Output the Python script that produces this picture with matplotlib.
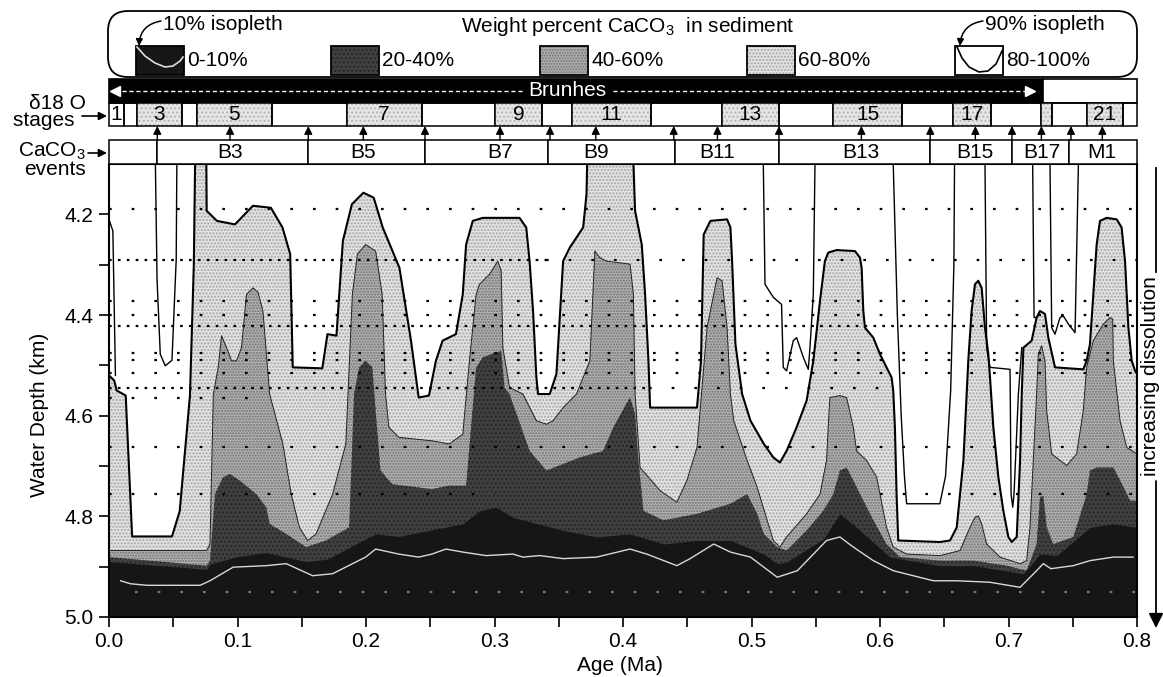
import numpy as np
import matplotlib.pyplot as plt
from matplotlib.patches import Rectangle, FancyBboxPatch

plt.rcParams['font.family'] = ['Liberation Sans', 'DejaVu Sans']
plt.rcParams['mathtext.fontset'] = 'custom'
plt.rcParams['mathtext.rm'] = 'Liberation Sans'
plt.rcParams['hatch.linewidth'] = 1.0

# isopleths: (age Ma, water depth km); 4.0 = above the frame
iso80 = [(0.000, 4.52), (0.004, 4.53), (0.006, 4.55), (0.013, 4.56), (0.018, 4.84), (0.049, 4.84),
         (0.055, 4.79), (0.063, 4.56), (0.066, 4.30), (0.0675, 4.00), (0.0755, 4.00), (0.076, 4.193),
         (0.084, 4.213), (0.098, 4.22), (0.112, 4.183), (0.126, 4.187), (0.135, 4.226), (0.141, 4.279),
         (0.143, 4.504), (0.166, 4.506), (0.170, 4.438), (0.177, 4.441), (0.182, 4.253), (0.189, 4.18),
         (0.198, 4.157), (0.206, 4.167), (0.213, 4.226), (0.226, 4.306), (0.235, 4.451), (0.241, 4.564),
         (0.249, 4.56), (0.2544, 4.491), (0.2596, 4.451), (0.270, 4.438), (0.2753, 4.359), (0.2779, 4.26),
         (0.2831, 4.213), (0.2909, 4.207), (0.3195, 4.207), (0.3247, 4.226), (0.3273, 4.293), (0.330, 4.392),
         (0.3326, 4.524), (0.3339, 4.557), (0.343, 4.557), (0.3482, 4.517), (0.3534, 4.293), (0.3586, 4.266),
         (0.369, 4.226), (0.3716, 4.16), (0.3729, 4.00), (0.4068, 4.00), (0.4094, 4.193), (0.4146, 4.26),
         (0.4172, 4.359), (0.4198, 4.491), (0.4211, 4.584), (0.4576, 4.584), (0.4607, 4.491), (0.4628, 4.24),
         (0.468, 4.213), (0.481, 4.21), (0.4836, 4.226), (0.4849, 4.293), (0.4875, 4.458), (0.4927, 4.557),
         (0.4992, 4.61), (0.5096, 4.656), (0.517, 4.683), (0.5221, 4.693), (0.5273, 4.67), (0.5351, 4.623),
         (0.5429, 4.57), (0.5481, 4.491), (0.5533, 4.372), (0.5571, 4.293), (0.5597, 4.276), (0.5662, 4.271),
         (0.5805, 4.273), (0.5844, 4.286), (0.5857, 4.306), (0.587, 4.392), (0.5883, 4.425), (0.5948, 4.445),
         (0.600, 4.478), (0.6051, 4.504), (0.609, 4.524), (0.6103, 4.55), (0.6116, 4.623), (0.6129, 4.756),
         (0.6142, 4.848), (0.6466, 4.851), (0.6545, 4.848), (0.6597, 4.822), (0.6649, 4.689), (0.6687, 4.491),
         (0.6713, 4.392), (0.6739, 4.339), (0.6765, 4.332), (0.6791, 4.346), (0.6817, 4.425), (0.6843, 4.478),
         (0.6856, 4.524), (0.6882, 4.623), (0.6921, 4.722), (0.696, 4.789), (0.6999, 4.841), (0.7025, 4.851),
         (0.7064, 4.841), (0.709, 4.689), (0.7103, 4.557), (0.7116, 4.465), (0.718, 4.451), (0.7219, 4.405),
         (0.7245, 4.392), (0.7284, 4.398), (0.731, 4.445), (0.7362, 4.504), (0.7582, 4.508), (0.7608, 4.491),
         (0.7634, 4.458), (0.766, 4.359), (0.7686, 4.26), (0.7712, 4.213), (0.7764, 4.207), (0.7842, 4.21),
         (0.788, 4.226), (0.7907, 4.293), (0.7933, 4.425), (0.7959, 4.491), (0.7985, 4.511), (0.800, 4.517)]

iso60 = [(0.0, 4.868), (0.076, 4.868), (0.0786, 4.855), (0.0812, 4.557), (0.085, 4.504), (0.0876, 4.441),
         (0.0915, 4.465), (0.0954, 4.491), (0.0992, 4.491), (0.1031, 4.465), (0.107, 4.359), (0.1121, 4.346),
         (0.116, 4.355), (0.1198, 4.392), (0.125, 4.557), (0.1353, 4.656), (0.1418, 4.756), (0.1482, 4.822),
         (0.1546, 4.848), (0.1611, 4.835), (0.174, 4.756), (0.1843, 4.656), (0.1894, 4.359), (0.1933, 4.279),
         (0.1997, 4.26), (0.2075, 4.273), (0.2126, 4.359), (0.2152, 4.557), (0.2178, 4.623), (0.2255, 4.643),
         (0.2513, 4.65), (0.2648, 4.656), (0.2753, 4.637), (0.2805, 4.491), (0.2857, 4.359), (0.2883, 4.339),
         (0.2961, 4.319), (0.3026, 4.293), (0.3052, 4.312), (0.3065, 4.465), (0.3117, 4.544), (0.3221, 4.557),
         (0.3326, 4.61), (0.3404, 4.617), (0.3456, 4.61), (0.3534, 4.584), (0.3638, 4.557), (0.3742, 4.491),
         (0.3781, 4.273), (0.382, 4.286), (0.3872, 4.293), (0.4055, 4.299), (0.4081, 4.359), (0.4094, 4.557),
         (0.4133, 4.703), (0.4289, 4.749), (0.4419, 4.772), (0.4497, 4.729), (0.4576, 4.663), (0.4654, 4.425),
         (0.4732, 4.326), (0.4771, 4.332), (0.481, 4.425), (0.4836, 4.557), (0.4862, 4.61), (0.4966, 4.689),
         (0.5044, 4.742), (0.5122, 4.808), (0.517, 4.848), (0.5221, 4.861), (0.5273, 4.841), (0.5429, 4.795),
         (0.5533, 4.756), (0.5584, 4.689), (0.5597, 4.623), (0.561, 4.564), (0.5688, 4.56), (0.574, 4.564),
         (0.5792, 4.623), (0.5818, 4.67), (0.5896, 4.689), (0.5974, 4.722), (0.600, 4.756), (0.6051, 4.822),
         (0.6103, 4.861), (0.6207, 4.875), (0.6466, 4.878), (0.6623, 4.868), (0.670, 4.822), (0.6739, 4.802),
         (0.6765, 4.799), (0.6791, 4.815), (0.683, 4.855), (0.6934, 4.881), (0.709, 4.894), (0.7141, 4.888),
         (0.7167, 4.822), (0.7193, 4.689), (0.7219, 4.557), (0.7232, 4.478), (0.7258, 4.461), (0.7284, 4.491),
         (0.7297, 4.59), (0.7336, 4.676), (0.7453, 4.699), (0.753, 4.676), (0.7582, 4.59), (0.7608, 4.504),
         (0.766, 4.451), (0.7738, 4.418), (0.779, 4.405), (0.7811, 4.408), (0.7816, 4.491), (0.7868, 4.61),
         (0.792, 4.663), (0.800, 4.676)]

iso40 = [(0.0, 4.881), (0.076, 4.898), (0.0786, 4.888), (0.0825, 4.756), (0.0889, 4.722), (0.0941, 4.716),
         (0.1018, 4.729), (0.1147, 4.756), (0.1224, 4.782), (0.125, 4.815), (0.1379, 4.835), (0.1534, 4.861),
         (0.1688, 4.848), (0.1869, 4.822), (0.1907, 4.557), (0.1946, 4.504), (0.1997, 4.491), (0.2049, 4.504),
         (0.2075, 4.59), (0.2113, 4.709), (0.2204, 4.736), (0.2513, 4.746), (0.2648, 4.739), (0.2779, 4.739),
         (0.2857, 4.504), (0.2909, 4.484), (0.3052, 4.471), (0.3078, 4.544), (0.3117, 4.557), (0.3273, 4.67),
         (0.3404, 4.709), (0.3534, 4.696), (0.3664, 4.683), (0.3846, 4.67), (0.3924, 4.623), (0.4055, 4.564),
         (0.4094, 4.597), (0.412, 4.689), (0.4159, 4.789), (0.4315, 4.808), (0.4576, 4.795), (0.4836, 4.775),
         (0.4966, 4.756), (0.5044, 4.795), (0.5096, 4.835), (0.520, 4.861), (0.5273, 4.868), (0.5429, 4.828),
         (0.5559, 4.789), (0.5636, 4.756), (0.5688, 4.709), (0.574, 4.703), (0.5792, 4.729), (0.5844, 4.756),
         (0.5948, 4.808), (0.6051, 4.855), (0.6155, 4.881), (0.6466, 4.888), (0.6726, 4.888), (0.6986, 4.898),
         (0.7141, 4.908), (0.7219, 4.855), (0.7245, 4.762), (0.7271, 4.759), (0.7297, 4.822), (0.7349, 4.855),
         (0.7505, 4.841), (0.7608, 4.756), (0.7634, 4.709), (0.7686, 4.703), (0.7816, 4.703), (0.7894, 4.742),
         (0.7946, 4.769), (0.800, 4.769)]

iso20 = [(0.0, 4.89), (0.076, 4.905), (0.0786, 4.895), (0.100, 4.88), (0.1224, 4.872), (0.1534, 4.89),
         (0.170, 4.885), (0.1997, 4.845), (0.2075, 4.835), (0.2255, 4.84), (0.2492, 4.828), (0.2753, 4.815),
         (0.2883, 4.789), (0.3013, 4.782), (0.3143, 4.802), (0.3534, 4.828), (0.3794, 4.841), (0.4055, 4.835),
         (0.4315, 4.855), (0.4576, 4.848), (0.4836, 4.848), (0.5096, 4.875), (0.520, 4.894), (0.5273, 4.891),
         (0.5559, 4.845), (0.5688, 4.795), (0.5818, 4.822), (0.6077, 4.881), (0.6466, 4.898), (0.6726, 4.898),
         (0.7116, 4.914), (0.7245, 4.875), (0.7375, 4.878), (0.7634, 4.822), (0.7816, 4.815), (0.800, 4.822)]

iso10 = [(0.009, 4.928), (0.0168, 4.934), (0.0296, 4.937), (0.0709, 4.937), (0.0786, 4.928), (0.0966, 4.901),
         (0.1224, 4.898), (0.1379, 4.894), (0.1585, 4.918), (0.174, 4.914), (0.1997, 4.881), (0.2075, 4.865),
         (0.2255, 4.875), (0.241, 4.881), (0.2513, 4.875), (0.2622, 4.865), (0.2753, 4.871), (0.2935, 4.878),
         (0.3143, 4.875), (0.3221, 4.881), (0.3352, 4.878), (0.3534, 4.884), (0.3794, 4.881), (0.4055, 4.865),
         (0.4185, 4.875), (0.4419, 4.898), (0.4523, 4.884), (0.4706, 4.855), (0.4836, 4.871), (0.4992, 4.881),
         (0.5096, 4.901), (0.520, 4.921), (0.5357, 4.908), (0.5584, 4.848), (0.5688, 4.841), (0.5792, 4.861),
         (0.5948, 4.888), (0.6103, 4.908), (0.6415, 4.928), (0.6597, 4.928), (0.6856, 4.931), (0.709, 4.941),
         (0.7219, 4.908), (0.7271, 4.894), (0.733, 4.904), (0.7505, 4.898), (0.7634, 4.888), (0.7816, 4.881),
         (0.797, 4.881)]

iso90_pieces = [
    [(0.0, 4.21), (0.003, 4.233), (0.005, 4.52)],
    [(0.0361, 4.1), (0.0374, 4.33), (0.0399, 4.478), (0.0438, 4.501), (0.049, 4.49), (0.0523, 4.29), (0.0528, 4.1)],
    [(0.5092, 4.1), (0.5105, 4.339), (0.517, 4.365), (0.5234, 4.379), (0.5247, 4.504), (0.5273, 4.511),
     (0.5325, 4.451), (0.5351, 4.445), (0.5403, 4.484), (0.5442, 4.508), (0.5455, 4.465), (0.5481, 4.359),
     (0.5494, 4.1)],
    [(0.6103, 4.1), (0.6135, 4.4), (0.6165, 4.6), (0.619, 4.72), (0.6207, 4.775), (0.6466, 4.775),
     (0.651, 4.72), (0.655, 4.55), (0.6575, 4.3), (0.658, 4.1)],
    [(0.6817, 4.1), (0.683, 4.465), (0.6856, 4.504), (0.7012, 4.508), (0.702, 4.756), (0.7033, 4.782),
     (0.7043, 4.756), (0.7077, 4.557), (0.7103, 4.465)],
    [(0.7188, 4.1), (0.7199, 4.405), (0.7219, 4.405)],
    [(0.7323, 4.1), (0.7336, 4.425), (0.7362, 4.438), (0.7401, 4.405), (0.7427, 4.402), (0.7466, 4.418),
     (0.7518, 4.435), (0.7544, 4.1)],
]

# core sample rows (depth, age span, dense or not)
row_depth = [4.19, 4.29, 4.29, 4.372, 4.40, 4.422, 4.475, 4.49, 4.515, 4.545, 4.545, 4.565, 4.663, 4.756, 4.756, 4.95]
row_from = [0.0, 0.0, 0.34, 0.0, 0.0, 0.0, 0.0, 0.0, 0.0, 0.0, 0.42, 0.0, 0.0, 0.0, 0.60, 0.02]
row_to = [0.8, 0.34, 0.8, 0.8, 0.8, 0.8, 0.8, 0.8, 0.8, 0.42, 0.60, 0.12, 0.8, 0.30, 0.8, 0.8]
row_dense = [0, 1, 0, 0, 0, 1, 0, 0, 0, 1, 0, 0, 0, 0, 0, 0]

# header: oxygen isotope stages, CaCO3 events, polarity
stage_edges = [0.0, 0.0117, 0.0216, 0.0566, 0.0683, 0.1266, 0.1849, 0.2433, 0.3004, 0.3367, 0.360, 0.4221,
               0.4768, 0.5214, 0.5633, 0.6174, 0.6567, 0.6864, 0.7256, 0.7338, 0.7608, 0.789, 0.800]
stage_labels = ['1', '', '3', '', '5', '', '7', '', '9', '', '11', '', '13', '', '15', '', '17', '', '', '', '21', '']
stage_shaded = [0, 0, 1, 0, 1, 0, 1, 0, 1, 0, 1, 0, 1, 0, 1, 0, 1, 0, 1, 0, 1, 0]
event_edges = [0.0, 0.0376, 0.1551, 0.2459, 0.3419, 0.4402, 0.5214, 0.6391, 0.7027, 0.7472, 0.800]
event_names = ['B3', 'B5', 'B7', 'B9', 'B11', 'B13', 'B15', 'B17', 'M1']
event_label_ages = [0.0942, 0.1979, 0.3043, 0.3788, 0.4735, 0.5855, 0.6742, 0.7256, 0.773]
arrow_ages = [0.0376, 0.0942, 0.1551, 0.1979, 0.2459, 0.3043, 0.3432, 0.3788, 0.4395, 0.4735, 0.5214,
              0.5855, 0.6391, 0.6742, 0.7027, 0.7256, 0.7486, 0.773]
brunhes_end = 0.727

legend_labels = ['0-10%', '20-40%', '40-60%', '60-80%', '80-100%']

LIGHT, MEDIUM, DARK, BLACK = '#e2e2e2', '#b2b2b2', '#404040', '#161616'

W, H = 1163, 677
fig = plt.figure(figsize=(W / 100, H / 100), dpi=100)


def frac(x0, y0, x1, y1):
    return [x0 / W, 1 - y1 / H, (x1 - x0) / W, (y1 - y0) / H]


ax = fig.add_axes(frac(109, 164, 1137, 617))
hx = fig.add_axes(frac(109, 0, 1137, 164))
ov = fig.add_axes([0, 0, 1, 1])

# ---- main panel
ax.set_xlim(0, 0.8)
ax.set_ylim(5.0, 4.1)
layers = [(iso80, LIGHT, '#a4a4a4', '.....'), (iso60, MEDIUM, '#707070', '......'),
          (iso40, DARK, '#262626', '....'), (iso20, BLACK, BLACK, None)]
for pts, fc, hc, hatch in layers:
    a = np.array(pts)
    ax.fill_between(a[:, 0], a[:, 1], 5.05, facecolor=fc, edgecolor=hc, hatch=hatch, linewidth=0)

for d, x0, x1, dense in zip(row_depth, row_from, row_to, row_dense):
    ls = (0, (1.2, 2.8)) if dense else (0, (1.2, 9))
    col = '#777777' if d > 4.9 else 'black'
    ax.plot([x0, x1], [d, d], color=col, lw=1.6, ls=ls, zorder=3)

a = np.array(iso60)
ax.plot(a[:, 0], a[:, 1], color='#222222', lw=0.7, zorder=4)
a = np.array(iso80)
ax.plot(a[:, 0], a[:, 1], color='black', lw=1.5, zorder=5)
for piece in iso90_pieces:
    a = np.array(piece)
    ax.plot(a[:, 0], a[:, 1], color='black', lw=1.0, zorder=5)
a = np.array(iso10)
ax.plot(a[:, 0], a[:, 1], color='#d8d8d8', lw=1.0, zorder=5)

ax.set_xticks(np.arange(0, 0.81, 0.1))
ax.set_xticklabels(['%.1f' % v for v in np.arange(0, 0.81, 0.1)])
ax.set_xticks(np.arange(0.05, 0.8, 0.1), minor=True)
ax.set_yticks([4.2, 4.4, 4.6, 4.8, 5.0])
ax.set_yticklabels(['4.2', '4.4', '4.6', '4.8', '5.0'])
ax.set_yticks([4.3, 4.5, 4.7, 4.9], minor=True)
ax.tick_params(which='both', direction='out', length=7, width=1.2, labelsize=15, pad=4)
for s in ax.spines.values():
    s.set_linewidth(1.5)
ax.set_xlabel('Age (Ma)', fontsize=15)
ax.xaxis.set_label_coords(0.497, -0.085)
ax.set_ylabel('Water Depth (km)', fontsize=15)
ax.yaxis.set_label_coords(-0.058, 0.446)

# ---- header strips (x in age, y in pixels)
hx.set_xlim(0, 0.8)
hx.set_ylim(164, 0)
hx.axis('off')
hx.add_patch(Rectangle((0, 79), brunhes_end, 24, fc='black', ec='black', lw=1.2, clip_on=False))
hx.add_patch(Rectangle((brunhes_end, 79), 0.8 - brunhes_end, 24, fc='white', ec='black', lw=1.2, clip_on=False))
hx.text(0.357, 91, 'Brunhes', color='white', ha='center', va='center', fontsize=15)
hx.plot([0.010, 0.322], [91, 91], color='white', lw=1.0, ls=(0, (3, 2)))
hx.plot([0.392, 0.713], [91, 91], color='white', lw=1.0, ls=(0, (3, 2)))
hx.plot([0.005], [91], marker='<', color='white', ms=7)
hx.plot([0.717], [91], marker='>', color='white', ms=7)

for i, lab in enumerate(stage_labels):
    x0, x1 = stage_edges[i], stage_edges[i + 1]
    if stage_shaded[i]:
        hx.add_patch(Rectangle((x0, 103), x1 - x0, 23, fc='#e6e6e6', ec='#b5b5b5', hatch='....', lw=0,
                               clip_on=False))
    hx.add_patch(Rectangle((x0, 103), x1 - x0, 23, fc='none', ec='black', lw=1.1, clip_on=False))
    if lab:
        hx.text((x0 + x1) / 2, 115, lab, ha='center', va='center', fontsize=15)

for i in range(len(event_edges) - 1):
    x0, x1 = event_edges[i], event_edges[i + 1]
    hx.add_patch(Rectangle((x0, 140), x1 - x0, 24, fc='white', ec='black', lw=1.1, clip_on=False))
for name, xa in zip(event_names, event_label_ages):
    hx.text(xa, 152.5, name, ha='center', va='center', fontsize=15)
for xa in arrow_ages:
    hx.annotate('', xy=(xa, 126), xytext=(xa, 140),
                arrowprops=dict(arrowstyle='-|>', color='black', lw=1.0, mutation_scale=12,
                                shrinkA=0, shrinkB=0))

# ---- overlay in pixels: legend and side labels
ov.set_xlim(0, W)
ov.set_ylim(H, 0)
ov.axis('off')
ov.add_patch(FancyBboxPatch((108, 11), 1029, 66, boxstyle='round,pad=0,rounding_size=20',
                            fc='white', ec='black', lw=1.3))
sw_x = [136, 331, 540, 747, 955]
sw_fill = [(BLACK, BLACK, None), (DARK, '#262626', '....'), (MEDIUM, '#707070', '......'),
           (LIGHT, '#a4a4a4', '.....'), ('white', 'white', None)]
for x, (fc, hc, hatch), lab in zip(sw_x, sw_fill, legend_labels):
    ov.add_patch(Rectangle((x, 46), 48, 29, fc=fc, ec=hc, hatch=hatch, lw=0))
    ov.add_patch(Rectangle((x, 46), 48, 29, fc='none', ec='black', lw=1.3))
    ov.text(x + 51, 61, lab, va='center', ha='left', fontsize=15)
ov.plot([137, 145, 155, 165, 173, 180, 183], [47, 56, 63, 67, 66, 61, 57], color='#dddddd', lw=1.2)
ov.plot([957, 962, 969, 979, 988, 996, 1002], [47, 58, 67, 72, 71, 64, 51], color='black', lw=1.2)
ov.text(163, 24, '10% isopleth', va='center', ha='left', fontsize=15)
ov.text(985, 24, '90% isopleth', va='center', ha='left', fontsize=15)
ov.text(628, 27, 'Weight percent CaCO$_3$  in sediment', va='center', ha='center', fontsize=15)
ov.annotate('', xy=(139, 46), xytext=(161, 21),
            arrowprops=dict(arrowstyle='-|>', connectionstyle='arc3,rad=0.4', color='black', lw=1.1,
                            mutation_scale=10, shrinkA=0, shrinkB=0))
ov.annotate('', xy=(960, 46), xytext=(983, 21),
            arrowprops=dict(arrowstyle='-|>', connectionstyle='arc3,rad=0.4', color='black', lw=1.1,
                            mutation_scale=10, shrinkA=0, shrinkB=0))

ov.text(86, 112, 'δ18 O\nstages  ', ha='right', va='center', fontsize=15, linespacing=0.85)
ov.annotate('', xy=(107, 116), xytext=(82, 116),
            arrowprops=dict(arrowstyle='-|>', color='black', lw=1.2, mutation_scale=12, shrinkA=0, shrinkB=0))
ov.text(86, 160, 'CaCO$_3$\nevents', ha='right', va='center', fontsize=15, linespacing=0.85)
ov.annotate('', xy=(107, 153), xytext=(88, 153),
            arrowprops=dict(arrowstyle='-|>', color='black', lw=1.2, mutation_scale=12, shrinkA=0, shrinkB=0))

ov.text(1151, 376, 'increasing dissolution', rotation=90, ha='center', va='center', fontsize=15)
ov.plot([1156, 1156], [168, 272], color='black', lw=1.3)
ov.annotate('', xy=(1156, 628), xytext=(1156, 481),
            arrowprops=dict(arrowstyle='-|>', color='black', lw=1.3, mutation_scale=22, shrinkA=0, shrinkB=0))

fig.savefig('out.png', dpi=100)
